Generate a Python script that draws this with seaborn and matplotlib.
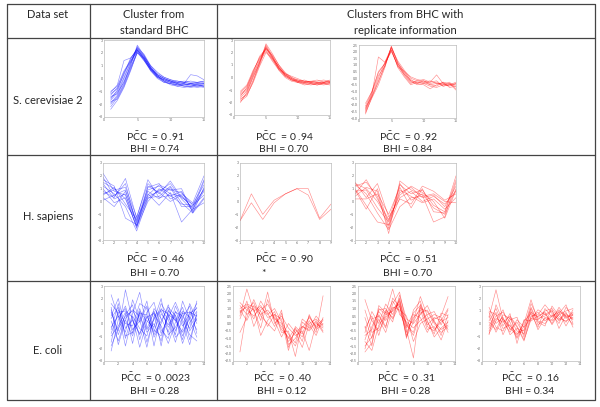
import numpy as np
import pandas as pd
import matplotlib
matplotlib.use("Agg")
import matplotlib.pyplot as plt
import seaborn as sns

sns.set_style("white")
plt.rcParams["font.family"] = ["Lato", "DejaVu Sans"]
plt.rcParams["mathtext.fontset"] = "custom"
plt.rcParams["mathtext.rm"] = "Lato"

W, H = 600, 407

# ---- data: expression profiles ----
sc_standard = [
    [-1.9, -1.3, -0.2, 1.0, 2.5, 1.7, 0.8, 0.2, -0.1, -0.3, -0.4, -0.5, -0.4, -0.3, -0.4],
    [-1.5, -1.0, 0.1, 1.3, 2.3, 1.8, 0.9, 0.3, 0.0, -0.2, -0.3, -0.4, -0.5, -0.4, -0.3],
    [-2.2, -1.5, -0.5, 0.8, 2.2, 1.5, 0.6, 0.0, -0.3, -0.4, -0.6, -0.5, -0.6, -0.5, -0.6],
    [-1.2, -0.8, 0.3, 1.5, 2.4, 1.9, 1.0, 0.4, 0.1, -0.1, -0.2, -0.3, -0.2, -0.3, -0.2],
    [-1.7, -1.1, -0.3, 0.9, 2.0, 1.6, 0.8, 0.3, 0.0, -0.2, -0.4, -0.6, -0.7, -0.6, -0.5],
    [-1.0, -0.6, 0.6, 1.4, 2.1, 1.4, 0.7, 0.2, -0.2, -0.3, -0.3, -0.4, 0.3, 0.2, -0.1],
    [-2.0, -1.4, -0.4, 1.1, 2.6, 1.8, 0.9, 0.2, -0.2, -0.5, -0.6, -0.7, -0.6, -0.5, -0.6],
    [-1.4, -1.2, 0.0, 1.2, 2.2, 1.7, 1.0, 0.5, 0.1, -0.1, -0.3, -0.2, -0.3, -0.4, -0.4],
    [-1.6, -0.9, 0.4, 1.6, 2.3, 1.5, 0.7, 0.1, -0.1, -0.3, -0.5, -0.4, -0.5, -0.6, -0.7],
    [-1.8, -1.6, -0.6, 0.7, 2.0, 1.4, 0.6, 0.1, -0.2, -0.4, -0.5, -0.5, -0.4, -0.5, -0.5],
    [-1.3, -0.7, 0.5, 1.3, 2.4, 1.6, 0.8, 0.3, 0.0, -0.2, -0.2, -0.3, -0.4, -0.3, -0.2],
    [-2.4, -1.7, -0.7, 0.6, 2.1, 1.5, 0.7, 0.1, -0.3, -0.4, -0.5, -0.6, -0.6, -0.7, -0.6],
    [-1.1, -0.5, 1.4, 1.6, 2.2, 1.6, 0.8, 0.2, -0.1, -0.2, -0.4, -0.3, -0.4, -0.5, -0.4],
]
sc_rep_a = [
    [-1.6, -1.1, 0.0, 1.2, 2.6, 1.7, 0.8, 0.1, -0.2, -0.3, -0.4, -0.5, -0.4, -0.4, -0.3],
    [-1.8, -1.3, -0.2, 1.0, 2.4, 1.5, 0.7, 0.2, -0.1, -0.4, -0.5, -0.4, -0.5, -0.3, -0.4],
    [-1.3, -0.9, 0.3, 1.4, 2.3, 1.8, 1.0, 0.4, 0.0, -0.2, -0.3, -0.3, -0.4, -0.5, -0.4],
    [-2.0, -1.2, 0.1, 1.1, 2.5, 1.6, 0.6, 0.0, -0.3, -0.4, -0.6, -0.5, -0.6, -0.5, -0.6],
    [-1.5, -0.8, 0.5, 1.6, 2.2, 1.4, 0.7, 0.3, 0.1, -0.1, -0.3, -0.4, -0.3, -0.2, -0.3],
    [-1.7, -1.4, -0.4, 0.9, 2.0, 1.5, 0.9, 0.2, -0.2, -0.3, -0.2, -0.4, -0.5, -0.6, -0.5],
    [-1.1, -0.6, 0.6, 1.5, 2.4, 1.7, 0.8, 0.2, -0.1, -0.2, -0.4, -0.3, -0.2, -0.4, -0.2],
    [-1.9, -1.5, -0.3, 1.2, 2.7, 1.9, 1.0, 0.3, -0.1, -0.3, -0.5, -0.6, -0.5, -0.4, -0.5],
    [-1.4, -1.0, 0.2, 1.3, 2.1, 1.3, 0.6, 0.1, -0.2, -0.4, -0.4, -0.3, -0.4, -0.5, -0.4],
    [-1.2, -0.7, 0.4, 1.7, 2.3, 1.6, 0.8, 0.3, 0.0, -0.3, -0.3, -0.5, -0.6, -0.4, -0.3],
]
sc_rep_b = [
    [-2.7, -1.4, -0.3, 1.0, 2.3, 1.1, 0.3, -0.2, -0.3, -0.3, -0.5, -0.4, -0.5, -0.4, -0.5],
    [-2.4, -1.2, 1.6, 1.2, 2.1, 0.9, 0.5, 0.1, -0.1, -0.2, -0.4, -0.3, -0.6, -0.5, -0.3],
    [-2.1, -1.0, 0.4, 1.1, 2.0, 1.0, 0.2, -0.4, -0.2, -0.1, -0.3, 0.25, -0.4, -0.6, -0.4],
    [-2.6, -1.5, -0.5, 0.8, 2.4, 1.2, 0.4, -0.1, -0.4, -0.5, -0.8, -0.5, -0.3, -0.7, -0.6],
    [-2.3, -1.1, 0.2, 0.9, 2.2, 0.8, 0.1, -0.5, -0.3, -0.4, -0.6, -0.7, -0.5, -0.3, -0.8],
    [-2.5, -1.3, 0.0, 1.2, 2.3, 1.3, 0.6, 0.0, -0.2, -0.3, -0.2, -0.4, -0.4, -0.5, -0.4],
    [-1.9, -1.0, 0.5, 1.1, 2.1, 0.9, 0.3, -0.3, -0.4, -0.2, -0.5, -0.6, -0.3, -0.4, -0.9],
    [-2.2, -1.4, -0.2, 0.9, 2.4, 1.1, 0.5, -0.2, -0.5, -0.4, -0.3, -0.2, -0.6, -0.5, -0.6],
]
hs_standard = [
    [2.2, 0.8, 0.5, -1.6, 0.9, 1.2, 0.6, 0.4, -0.5, 1.0],
    [1.5, 1.0, 0.2, -1.9, 0.4, 0.8, 1.4, 0.2, -0.7, 1.6],
    [0.8, 0.3, 1.8, -1.3, 1.7, 0.3, 0.5, -0.2, -0.3, 0.5],
    [1.2, 0.6, -0.4, -2.3, 0.2, 0.9, 0.9, 1.0, -0.9, 0.2],
    [0.3, -0.4, 0.8, -1.5, 1.1, 1.4, 0.2, 0.6, -0.1, 2.0],
    [1.7, 1.2, -1.3, -1.8, 0.6, -0.3, 0.7, -1.6, -0.6, 0.8],
    [0.6, 0.9, 1.1, -1.2, 1.4, 0.6, 1.6, 0.3, -0.2, 1.3],
    [1.0, -0.1, 0.3, -2.0, 0.0, 1.0, 0.4, 0.8, -0.8, 0.3],
    [0.1, 0.5, 0.9, -1.7, 0.8, 0.2, 1.1, -0.4, -0.4, 1.7],
    [1.4, 0.2, 0.6, -2.1, 1.2, 0.7, 0.0, 0.5, -0.6, -0.1],
    [0.5, 1.1, -0.2, -1.4, 0.5, 1.3, 0.9, 0.7, -0.3, 0.9],
    [1.9, 0.4, 1.4, -1.9, 0.3, 0.4, 1.2, -0.1, -0.9, 1.1],
]
hs_rep_a = [
    [-1.5, 0.6, -1.0, 0.1, 0.6, 1.0, 1.0, -1.3, -0.2],
    [-1.5, -0.1, -1.4, -0.1, 0.6, 1.0, 0.5, -1.4, -0.6],
]
hs_rep_b = [
    [1.2, 1.5, 0.4, -2.1, 1.3, 0.6, 0.9, -0.3, -0.8, 2.0],
    [0.8, 0.9, -0.5, -1.6, 0.7, 1.1, 0.3, 0.5, -0.4, 1.2],
    [1.5, 0.3, 1.4, -1.2, 0.2, -0.2, 1.2, 0.8, 0.1, 0.6],
    [0.4, 1.1, 0.8, -2.5, 1.6, 0.9, 0.5, -1.6, -1.2, 1.5],
    [1.0, -0.3, -1.6, -1.8, 0.9, 0.4, -0.1, 0.2, -0.6, 0.3],
    [0.6, 1.7, 0.2, -1.4, 0.5, 1.2, 0.7, 0.0, -1.3, 0.9],
    [1.3, 0.6, -0.9, -2.2, -0.4, 0.3, 0.4, 0.6, 0.0, -0.1],
    [0.2, 0.2, 0.6, -1.0, 1.1, -0.5, 1.0, -0.8, -0.9, 1.7],
    [0.9, -0.6, 1.0, -1.9, 0.3, 0.8, 0.0, 0.4, -0.2, 0.8],
    [1.4, 1.0, 0.0, -1.5, 1.4, 0.1, 0.6, -0.5, -1.0, 1.0],
]
ec_standard = [
    [2.3, 0.5, 1.2, -0.8, 0.9, -1.5, 0.4, 1.0, -0.3, 0.7, -1.0, 0.6, 1.6],
    [-0.5, 1.6, -1.2, 0.8, 2.5, -0.4, 0.9, -1.8, 1.1, 0.2, 1.3, -0.6, 0.4],
    [1.1, -0.9, 0.7, 1.5, -1.3, 0.6, -0.7, 1.2, 0.3, -1.5, 0.5, 1.4, -0.8],
    [-2.2, 0.3, 1.4, -0.5, 0.2, 1.8, -1.1, 0.0, 1.5, -0.6, 0.9, -1.3, 0.7],
    [0.6, 2.0, -0.4, 0.3, -0.9, 0.9, 1.7, -0.5, -1.2, 1.0, -0.2, 0.8, 1.2],
    [-1.0, -0.2, 0.9, -1.6, 1.0, 0.2, -0.3, 1.6, 0.6, -0.9, 1.8, 0.3, -1.1],
    [1.6, 0.8, -1.8, 0.6, -0.4, -1.0, 1.2, 0.4, -0.7, 1.4, 0.1, -1.7, 0.9],
    [0.2, -1.4, 0.4, 1.1, 0.6, -0.7, 0.0, -1.4, 1.0, 0.4, -1.3, 1.0, 0.0],
    [-1.5, 1.1, 0.0, -0.2, 1.6, 1.2, -1.8, 0.8, -0.1, 0.9, 0.6, -0.4, 1.8],
    [0.9, -0.6, 2.7, 0.2, -0.8, 0.5, 0.8, -0.2, -1.6, 0.1, 1.0, 0.5, -0.5],
    [-0.3, 0.6, -0.7, 1.9, 0.3, -1.9, 0.6, 1.1, 0.8, -1.1, -0.5, 1.6, 0.2],
    [1.3, -1.7, 0.3, -1.0, 0.8, 0.7, -0.9, 0.2, 1.3, 0.6, -1.6, 0.1, 1.0],
    [-0.8, 0.9, 1.0, 0.5, -1.9, 0.1, 1.0, -0.8, 0.5, 1.7, 0.3, -0.9, -1.4],
    [0.4, 1.3, -1.0, -0.7, 1.2, -0.5, 0.3, 2.0, -0.9, -0.3, 0.8, 0.9, 0.6],
    [-1.8, -0.4, 0.6, 1.0, 0.1, 1.4, -0.5, -1.0, 0.7, 0.3, -0.7, 0.4, 1.3],
]
ec_rep_a = [
    [1.0, 1.3, 1.1, 0.6, 0.9, 0.3, 0.0, -1.2, -0.6, -0.2, -0.4, 0.2, -0.5],
    [0.5, 2.3, 0.8, 1.2, 0.4, 0.6, -0.4, -0.9, -1.5, -0.3, 0.4, -0.2, 0.3],
    [-1.9, 0.9, 1.4, 0.2, 2.1, 0.0, 0.5, -0.3, -0.8, -0.5, -1.8, 0.0, -0.3],
    [0.8, 1.1, 0.3, 1.5, 0.7, -0.2, 0.9, -1.6, -0.4, -0.9, 0.2, -0.6, 1.85],
    [1.2, 0.6, 1.0, -0.8, 0.2, 0.8, -0.6, -0.5, -2.2, 0.1, -0.3, 0.5, -0.1],
    [0.3, 1.5, -0.2, 0.9, 1.3, 0.4, -0.2, -1.0, -0.3, -1.2, 0.6, -0.4, 0.0],
    [-0.6, 0.4, 1.6, 0.5, 0.0, -0.5, 0.7, -1.4, -1.0, -0.2, -0.5, 0.1, -0.6],
    [1.4, 0.9, 0.5, 1.1, 0.6, 1.0, 0.1, -0.7, -1.3, 0.3, -0.1, -0.8, 0.4],
    [0.7, 1.2, 0.9, -0.3, 1.6, 0.2, -0.9, 0.0, -0.6, -1.6, 0.0, 0.3, -0.2],
    [0.9, 0.2, 1.2, 0.8, -0.2, 0.6, 0.3, -1.8, -0.2, -0.7, 0.5, -0.3, 0.2],
]
ec_rep_b = [
    [1.6, 0.2, -0.5, 0.4, 0.9, 1.5, -0.3, 0.2, 1.8, 0.5, -0.4, 0.1, 0.4],
    [-1.9, -1.3, 0.6, -0.2, 1.3, 2.1, -0.1, -0.6, 1.0, 0.8, 0.0, -0.6, -0.2],
    [-0.8, -0.4, 0.9, 1.0, 0.3, 1.2, -0.8, 0.6, 0.4, -0.6, 0.3, 0.5, 1.8],
    [-1.2, -1.8, -0.1, 0.5, 1.5, 0.8, -0.4, -2.3, 1.3, 0.2, -0.9, -0.3, 0.1],
    [-0.3, 0.5, -0.8, 0.8, 0.1, 1.9, 0.3, 0.0, 0.6, 1.2, 0.2, -0.8, 0.6],
    [-1.5, -0.9, 0.3, -0.6, 1.0, 1.3, -1.0, 0.9, 1.5, -0.2, -0.5, 0.3, -0.4],
    [0.4, -1.0, 1.2, 0.7, 2.3, 0.6, 0.1, -0.3, 0.2, 0.6, 0.8, -0.1, 0.9],
    [-0.6, 0.8, 0.0, 1.3, 0.6, 1.6, -0.6, 0.4, 0.9, -0.4, -0.2, -1.1, 0.2],
    [-1.7, -0.2, 0.8, 0.2, 1.1, 0.9, 0.5, -1.2, 0.0, 0.3, 0.6, 0.4, -0.6],
    [0.9, -0.6, -0.3, 0.9, 0.4, 1.7, -0.2, 0.7, 1.2, 0.1, -0.7, 0.7, 0.5],
    [-1.1, 0.3, 0.5, -0.3, 1.7, 1.1, 0.0, -0.8, 0.7, 0.9, 0.1, -0.4, -0.1],
    [-0.2, -1.5, 1.0, 0.6, 0.8, 1.4, -0.9, 0.1, 1.1, -0.1, 0.4, 0.2, 1.0],
]
ec_rep_c = [
    [0.5, 2.7, 0.3, -0.2, -0.8, -0.5, 1.6, 0.4, 0.6, 1.0, 0.2, 0.8, 0.3],
    [-0.4, 0.6, 0.9, 0.1, -1.1, 0.2, 0.8, -0.3, 1.2, 0.5, 1.1, 0.4, 0.9],
    [0.9, -0.3, -0.6, 0.5, -0.3, -1.4, 0.5, 0.9, 0.2, 0.7, 0.0, 1.3, 0.6],
    [-0.8, 0.2, 1.1, -0.5, 0.1, -0.9, 1.3, 0.1, -0.2, 1.4, 0.6, 0.1, 1.1],
    [0.2, 1.2, -0.2, 0.8, -1.6, 0.3, 0.2, 0.6, 0.9, -0.1, 0.8, 1.5, 0.0],
    [1.3, 0.0, 0.5, -0.9, -0.4, -0.6, 1.0, -0.5, 0.5, 0.3, 1.3, 0.5, 0.7],
    [-0.2, 0.9, -0.9, 0.3, 0.5, -1.1, 0.6, 0.7, 1.5, 0.8, 0.3, 0.9, -0.3],
    [0.6, -0.7, 0.4, -0.4, -0.9, 0.0, 1.9, 0.2, 0.0, 0.6, 0.9, -0.2, 0.8],
    [-0.6, 0.4, 0.1, 0.6, -0.2, -1.3, 0.3, 1.1, 0.7, 1.1, -0.4, 0.7, 0.4],
    [1.0, 0.7, -0.4, -0.1, -1.2, -0.2, 1.2, -0.1, 0.4, 0.2, 0.7, 1.0, 1.2],
    [0.1, -0.5, 0.7, 0.4, -0.6, -0.8, 0.9, 0.5, 1.0, 1.2, 0.4, 0.2, 0.5],
    [-0.9, 1.5, 0.2, -0.7, 0.3, -0.3, 0.4, 0.3, 0.8, 0.0, 1.0, 0.6, -0.1],
]

row_labels = ["S. cerevisiae 2", "H. sapiens", "E. coli"]
pcc_labels = [["0 .91", "0 .94", "0 .92"],
              ["0 .46", "0 .90", "0 .51"],
              ["0 .0023", "0 .40", "0 .31", "0 .16"]]
bhi_labels = [["0.74", "0.70", "0.84"],
              ["0.70", "*", "0.70"],
              ["0.28", "0.12", "0.28", "0.34"]]


def to_long(lines):
    rows = []
    for i, vals in enumerate(lines):
        for j, v in enumerate(vals):
            rows.append({"x": j + 1, "y": v, "line": i})
    return pd.DataFrame(rows)


fig = plt.figure(figsize=(W / 100, H / 100), dpi=100)

# table frame drawn in pixel coordinates
bg = fig.add_axes([0, 0, 1, 1])
bg.set_xlim(0, W)
bg.set_ylim(H, 0)
bg.axis("off")
rule = dict(color="#444444", lw=0.9)
bg.plot([7, 595, 595, 7, 7], [4, 4, 400, 400, 4], **rule)
for yy in [38, 155, 281]:
    bg.plot([7, 595], [yy, yy], **rule)
for xx in [90, 217]:
    bg.plot([xx, xx], [4, 400], **rule)

fs = 8
bg.text(48, 15, "Data set", ha="center", va="center", fontsize=fs)
bg.text(154, 15, "Cluster from", ha="center", va="center", fontsize=fs)
bg.text(154, 30, "standard BHC", ha="center", va="center", fontsize=fs)
bg.text(405, 15, "Clusters from BHC with", ha="center", va="center", fontsize=fs)
bg.text(405, 30, "replicate information", ha="center", va="center", fontsize=fs)
for lab, yy in zip(row_labels, [101, 216, 350]):
    bg.text(48, yy, lab, ha="center", va="center", fontsize=fs)


def panel(box, lines, color, xlim, ylim, xticks, yticks):
    x0, y0, x1, y1 = box
    ax = fig.add_axes([x0 / W, 1 - y1 / H, (x1 - x0) / W, (y1 - y0) / H])
    sns.lineplot(data=to_long(lines), x="x", y="y", units="line", estimator=None,
                 color=color, lw=0.45, alpha=0.45, ax=ax)
    ax.set_xlim(*xlim)
    ax.set_ylim(*ylim)
    ax.set_xticks(xticks)
    ax.set_yticks(yticks)
    ax.tick_params(labelsize=2.5, labelcolor="#666666", length=1.5, width=0.3,
                   direction="in", pad=1, colors="#888888")
    for s in ax.spines.values():
        s.set_color("#aaaaaa")
        s.set_linewidth(0.4)
    ax.set_xlabel("")
    ax.set_ylabel("")
    return ax


t15 = [0, 5, 10, 15]
panel((104, 40, 204, 117), sc_standard, "blue", (0, 15), (-3, 3), t15, range(-3, 4))
panel((234, 40, 330, 115), sc_rep_a, "red", (0, 15), (-3, 3), t15, range(-3, 4))
panel((359, 45, 456, 118), sc_rep_b, "red", (0, 15), (-3, 2.5), t15,
      np.arange(-3, 2.6, 0.5))

panel((103, 163, 204, 240), hs_standard, "blue", (1, 10), (-3, 3), range(1, 11), range(-3, 4))
panel((240, 163, 331, 240), hs_rep_a, "red", (1, 9), (-3, 3), range(1, 10), range(-3, 4))
panel((355, 163, 456, 240), hs_rep_b, "red", (1, 10), (-3, 3), range(1, 11), range(-3, 4))

t14 = range(0, 15, 2)
panel((104, 286, 204, 361), ec_standard, "blue", (0, 14), (-3, 3), t14, range(-3, 4))
panel((233, 286, 330, 361), ec_rep_a, "red", (0, 14), (-2.5, 2.5), t14,
      np.arange(-2.5, 2.6, 0.5))
panel((358, 286, 455, 361), ec_rep_b, "red", (0, 14), (-2.5, 2.5), t14,
      np.arange(-2.5, 2.6, 0.5))
panel((482, 286, 580, 361), ec_rep_c, "red", (0, 14), (-3, 3), t14, range(-3, 4))

# statistics under each thumbnail
fs_stat = 7.5
centers = [[155, 284, 408], [155, 284, 408], [155, 282, 406, 530]]
stat_y = [(136, 149), (258, 273), (377, 392)]
for r in range(3):
    for c, cx in enumerate(centers[r]):
        py, by = stat_y[r]
        bg.text(cx, py, r"P$\bar{\mathrm{C}}$C  = " + pcc_labels[r][c],
                ha="center", va="center", fontsize=fs_stat)
        b = bhi_labels[r][c]
        if b == "*":
            bg.text(cx - 20, by + 1, "*", ha="center", va="center", fontsize=fs_stat)
        else:
            bg.text(cx, by, "BHI = " + b, ha="center", va="center", fontsize=fs_stat)

fig.savefig("out.png", dpi=100)
